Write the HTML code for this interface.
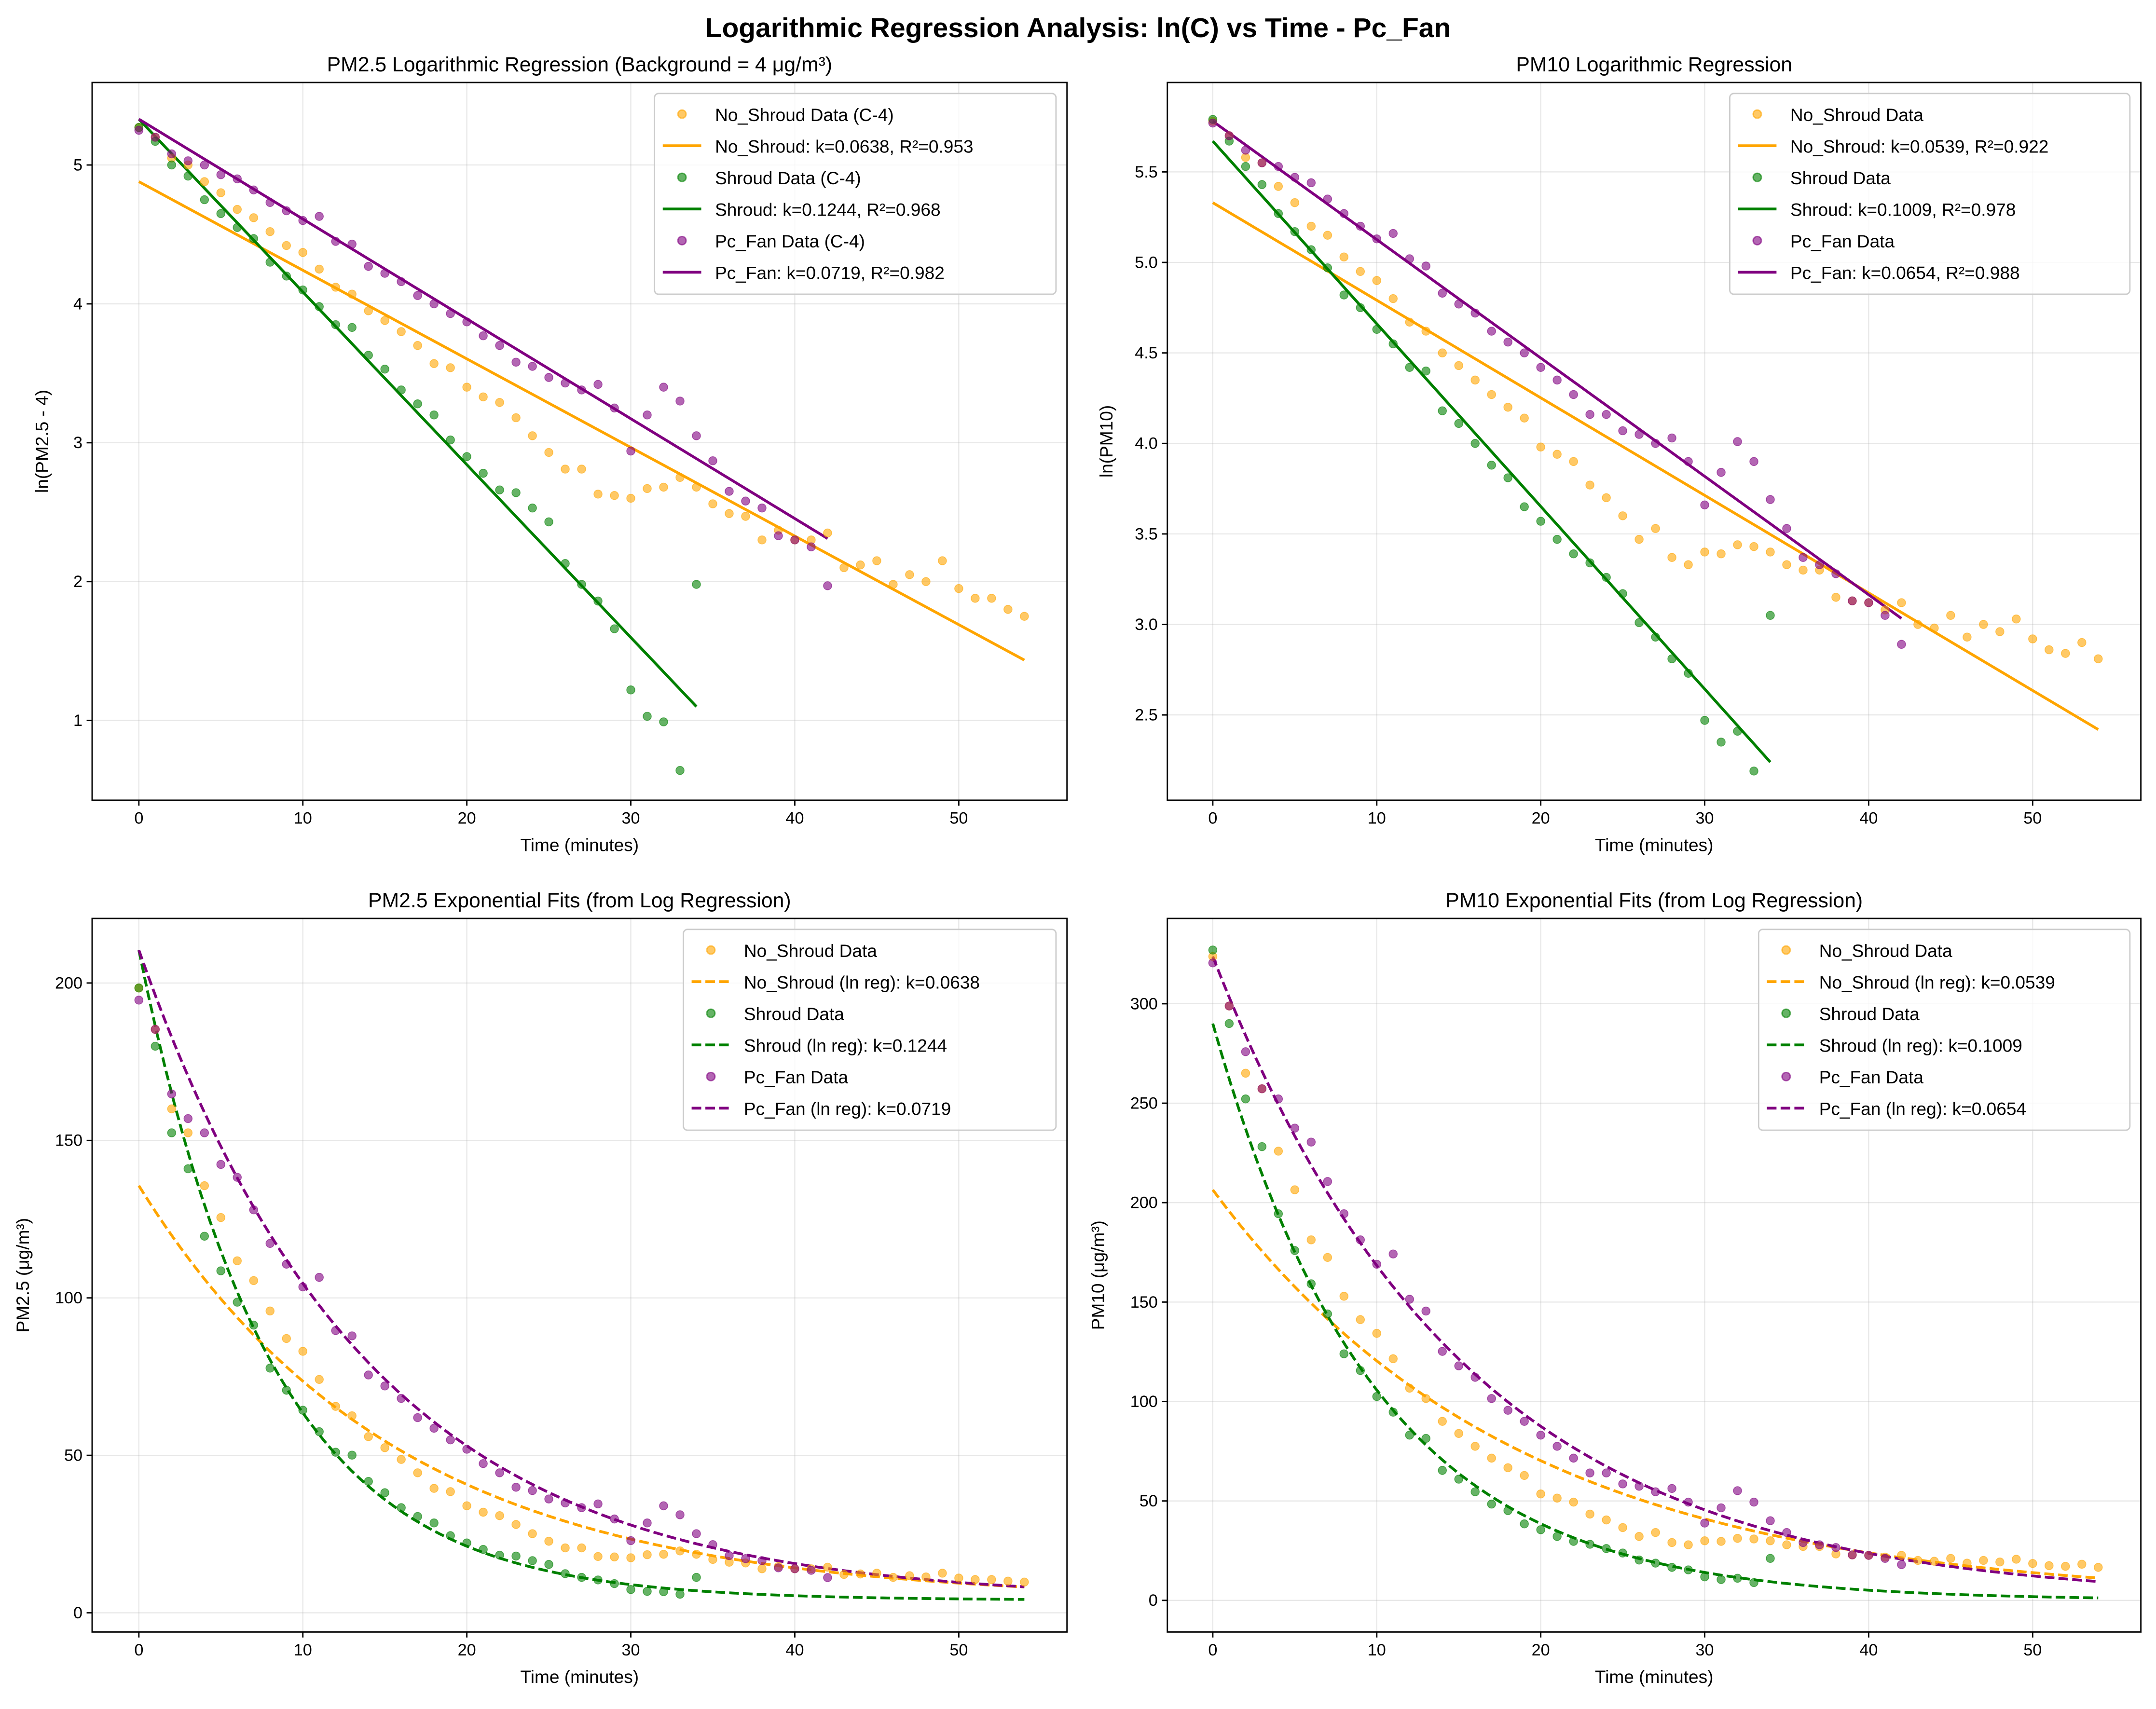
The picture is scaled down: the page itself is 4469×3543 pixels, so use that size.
<!DOCTYPE html>
<html><head><meta charset="utf-8"><style>body{margin:0;background:#fff}svg{display:block}text{font-family:"Liberation Sans","DejaVu Sans",sans-serif}</style></head>
<body>
<svg id="fig" xmlns="http://www.w3.org/2000/svg" width="4469" height="3543" viewBox="0 0 1568 1243" preserveAspectRatio="none">
<rect width="1568" height="1243" fill="#fff"/>
<text x="784" y="27" text-anchor="middle" font-size="20" font-weight="bold">Logarithmic Regression Analysis: ln(C) vs Time - Pc_Fan</text>
</svg>
<script>
const pm25NoShroudLn=[5.27,5.2,5.05,5.0,4.88,4.8,4.68,4.62,4.52,4.42,4.37,4.25,4.12,4.07,3.95,3.88,3.8,3.7,3.57,3.54,3.4,3.33,3.29,3.18,3.05,2.93,2.81,2.81,2.63,2.62,2.6,2.67,2.68,2.75,2.68,2.56,2.49,2.47,2.3,2.37,2.3,2.3,2.35,2.1,2.12,2.15,1.98,2.05,2.0,2.15,1.95,1.88,1.88,1.8,1.75];
const pm25ShroudLn=[5.27,5.17,5.0,4.92,4.75,4.65,4.55,4.47,4.3,4.2,4.1,3.98,3.85,3.83,3.63,3.53,3.38,3.28,3.2,3.02,2.9,2.78,2.66,2.64,2.53,2.43,2.13,1.98,1.86,1.66,1.22,1.03,0.99,0.64,1.98];
const pm25PcFanLn=[5.25,5.2,5.08,5.03,5.0,4.93,4.9,4.82,4.73,4.67,4.6,4.63,4.45,4.43,4.27,4.22,4.16,4.06,4.0,3.93,3.87,3.77,3.7,3.58,3.55,3.47,3.43,3.38,3.42,3.25,2.94,3.2,3.4,3.3,3.05,2.87,2.65,2.58,2.53,2.33,2.3,2.25,1.97];
const pm10NoShroudLn=[5.78,5.7,5.58,5.55,5.42,5.33,5.2,5.15,5.03,4.95,4.9,4.8,4.67,4.62,4.5,4.43,4.35,4.27,4.2,4.14,3.98,3.94,3.9,3.77,3.7,3.6,3.47,3.53,3.37,3.33,3.4,3.39,3.44,3.43,3.4,3.33,3.3,3.3,3.15,3.13,3.12,3.08,3.12,3.0,2.98,3.05,2.93,3.0,2.96,3.03,2.92,2.86,2.84,2.9,2.81];
const pm10ShroudLn=[5.79,5.67,5.53,5.43,5.27,5.17,5.07,4.97,4.82,4.75,4.63,4.55,4.42,4.4,4.18,4.11,4.0,3.88,3.81,3.65,3.57,3.47,3.39,3.34,3.26,3.17,3.01,2.93,2.81,2.73,2.47,2.35,2.41,2.19,3.05];
const pm10PcFanLn=[5.77,5.7,5.62,5.55,5.53,5.47,5.44,5.35,5.27,5.2,5.13,5.16,5.02,4.98,4.83,4.77,4.72,4.62,4.56,4.5,4.42,4.35,4.27,4.16,4.16,4.07,4.05,4.0,4.03,3.9,3.66,3.84,4.01,3.9,3.69,3.53,3.37,3.33,3.28,3.13,3.12,3.05,2.89];
const pm25Intercepts=[4.88,5.33,5.33];
const pm25K=[0.0638,0.1244,0.0719];
const pm25R2=[0.953,0.968,0.982];
const pm10Intercepts=[5.33,5.67,5.78];
const pm10K=[0.0539,0.1009,0.0654];
const pm10R2=[0.922,0.978,0.988];
const xTicks=[0,10,20,30,40,50];
const names=["No_Shroud","Shroud","Pc_Fan"];
const colors=["#FFA500","#008000","#800080"];
const BG=4;

const svg=document.getElementById('fig');
const NS='http://www.w3.org/2000/svg';
function el(tag,attrs,parent,text){const e=document.createElementNS(NS,tag);for(const k in attrs)e.setAttribute(k,attrs[k]);if(text!==undefined)e.textContent=text;(parent||svg).appendChild(e);return e;}

function panel(cfg){
  const g=el('g',{});
  
  
  const {x0,x1,y0,y1,xmin,xmax,ymin,ymax}=cfg;
  const sx=v=>x0+(v-xmin)/(xmax-xmin)*(x1-x0);
  const sy=v=>y1-(v-ymin)/(ymax-ymin)*(y1-y0);
  const clip='clip-'+cfg.name;
  const cp=el('clipPath',{id:clip},g);el('rect',{x:x0,y:y0,width:x1-x0,height:y1-y0},cp);
  xTicks.forEach(t=>{el('line',{x1:sx(t),x2:sx(t),y1:y0,y2:y1,stroke:'#b0b0b0','stroke-opacity':0.3,'stroke-width':0.8},g);});
  cfg.yTicks.forEach(t=>{el('line',{x1:x0,x2:x1,y1:sy(t),y2:sy(t),stroke:'#b0b0b0','stroke-opacity':0.3,'stroke-width':0.8},g);});
  const pg=el('g',{'clip-path':'url(#'+clip+')'},g);
  cfg.fits.forEach((f,i)=>{
    let d='';const n=100;
    for(let j=0;j<=n;j++){const t=f.tmax*j/n;const v=f.fn(t);d+=(j?'L':'M')+sx(t).toFixed(2)+','+sy(v).toFixed(2);}
    const p=el('path',{d:d,fill:'none',stroke:colors[i],'stroke-width':2,'stroke-dasharray':cfg.dashed?'7,3':'none'},pg);
    
    
  });
  cfg.series.forEach((s,i)=>{
    s.forEach((v,t)=>{
      const c=el('circle',{cx:sx(t),cy:sy(cfg.tf(v)),r:3,fill:colors[i],'fill-opacity':0.6,stroke:colors[i],'stroke-opacity':0.6,'stroke-width':0.5},pg);
      
      
    });
  });
  el('rect',{x:x0,y:y0,width:x1-x0,height:y1-y0,fill:'none',stroke:'#000','stroke-width':1},g);
  xTicks.forEach(t=>{el('line',{x1:sx(t),x2:sx(t),y1:y1,y2:y1+4,stroke:'#000'},g);
    const tx=el('text',{x:sx(t),y:y1+17,'text-anchor':'middle','font-size':12},g,String(t));
    
    });
  cfg.yTicks.forEach(t=>{el('line',{x1:x0-4,x2:x0,y1:sy(t),y2:sy(t),stroke:'#000'},g);
    const tx=el('text',{x:x0-7,y:sy(t)+4,'text-anchor':'end','font-size':12},g,cfg.yFmt(t));
    
    });
  const xl=el('text',{x:(x0+x1)/2,y:y1+37,'text-anchor':'middle','font-size':13},g,'Time (minutes)');
  
  
  const yl=el('text',{x:0,y:0,'text-anchor':'middle','font-size':13,transform:'translate('+(x0-cfg.ylx)+','+((y0+y1)/2)+') rotate(-90)'},g,cfg.ylabel);
  
  
  const tt=el('text',{x:(x0+x1)/2,y:y0-8,'text-anchor':'middle','font-size':15},g,cfg.title);
  
  
  const L=cfg.legend;
  const lg=el('g',{},g);
  
  
  el('rect',{x:L.x,y:y0+8,width:x1-8-L.x,height:L.entries.length*23+8,rx:3,fill:'#fff','fill-opacity':0.8,stroke:'#ccc'},lg);
  L.entries.forEach((e,j)=>{
    const yy=y0+8+15+j*23;const ci=Math.floor(j/2);
    if(j%2===0) el('circle',{cx:L.x+20,cy:yy,r:3,fill:colors[ci],'fill-opacity':0.6,stroke:colors[ci],'stroke-opacity':0.6},lg);
    else el('line',{x1:L.x+6,x2:L.x+34,y1:yy,y2:yy,stroke:colors[ci],'stroke-width':2,'stroke-dasharray':cfg.dashed?'7,3':'none'},lg);
    const t=el('text',{x:L.x+44,y:yy+5,'font-size':13},lg,e);
    
    
  });
}
const id=v=>v;
const L25=[],L10=[],E25=[],E10=[];
names.forEach((n,i)=>{
  L25.push(n+' Data (C-4)',n+': k='+pm25K[i].toFixed(4)+', R²='+pm25R2[i].toFixed(3));
  L10.push(n+' Data',n+': k='+pm10K[i].toFixed(4)+', R²='+pm10R2[i].toFixed(3));
  E25.push(n+' Data',n+' (ln reg): k='+pm25K[i].toFixed(4));
  E10.push(n+' Data',n+' (ln reg): k='+pm10K[i].toFixed(4));
});
const tmax=[54,34,42];
panel({name:'pm25-log-panel',x0:67,x1:776,y0:60,y1:582,xmin:-2.85,xmax:56.6,ymin:0.426,ymax:5.594,yTicks:[1,2,3,4,5],yFmt:v=>String(v),
  series:[pm25NoShroudLn,pm25ShroudLn,pm25PcFanLn],tf:id,
  fits:[0,1,2].map(i=>({tmax:tmax[i],fn:t=>pm25Intercepts[i]-pm25K[i]*t})),
  ylabel:'ln(PM2.5 - 4)',ylx:32,title:'PM2.5 Logarithmic Regression (Background = 4 μg/m³)',legend:{x:476,entries:L25}});
panel({name:'pm10-log-panel',x0:849,x1:1557,y0:60,y1:582,xmin:-2.77,xmax:56.6,ymin:2.029,ymax:5.994,yTicks:[2.5,3,3.5,4,4.5,5,5.5],yFmt:v=>v.toFixed(1),
  series:[pm10NoShroudLn,pm10ShroudLn,pm10PcFanLn],tf:id,
  fits:[0,1,2].map(i=>({tmax:tmax[i],fn:t=>pm10Intercepts[i]-pm10K[i]*t})),
  ylabel:'ln(PM10)',ylx:40,title:'PM10 Logarithmic Regression',legend:{x:1258,entries:L10}});
panel({name:'pm25-exp-panel',x0:67,x1:776,y0:668,y1:1187,xmin:-2.85,xmax:56.6,ymin:-6.1,ymax:220.5,yTicks:[0,50,100,150,200],yFmt:v=>String(v),dashed:true,
  series:[pm25NoShroudLn,pm25ShroudLn,pm25PcFanLn],tf:v=>Math.exp(v)+BG,
  fits:[0,1,2].map(i=>({tmax:54,fn:t=>Math.exp(pm25Intercepts[i]-pm25K[i]*t)+BG})),
  ylabel:'PM2.5 (μg/m³)',ylx:46,title:'PM2.5 Exponential Fits (from Log Regression)',legend:{x:497,entries:E25}});
panel({name:'pm10-exp-panel',x0:849,x1:1557,y0:668,y1:1187,xmin:-2.77,xmax:56.6,ymin:-15.9,ymax:342.9,yTicks:[0,50,100,150,200,250,300],yFmt:v=>String(v),dashed:true,
  series:[pm10NoShroudLn,pm10ShroudLn,pm10PcFanLn],tf:v=>Math.exp(v),
  fits:[0,1,2].map(i=>({tmax:54,fn:t=>Math.exp(pm10Intercepts[i]-pm10K[i]*t)})),
  ylabel:'PM10 (μg/m³)',ylx:46,title:'PM10 Exponential Fits (from Log Regression)',legend:{x:1279,entries:E10}});
</script>
</body></html>
